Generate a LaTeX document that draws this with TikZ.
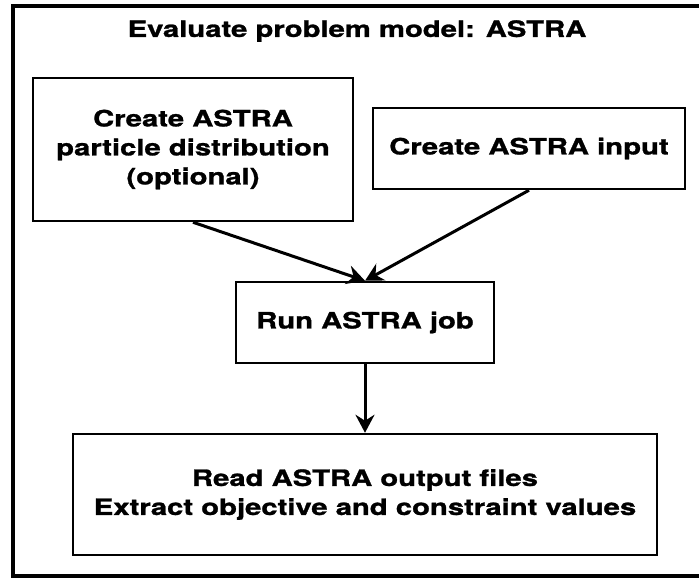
\documentclass[tikz,border=0pt]{standalone}
\usepackage{fontspec}
\setmainfont{TeX Gyre Heros}[FakeStretch=1.3,FakeBold=1.2]
\usetikzlibrary{arrows.meta}
\tikzset{
  stage/.style={draw,line width=2.5pt,align=center,inner sep=0pt},
  flow/.style={-{Stealth[length=18pt,width=19pt,inset=6pt]},line width=3pt},
}
\begin{document}
\begin{tikzpicture}[x=1pt,y=-1pt,font=\bfseries\fontsize{22.5}{29}\selectfont]
\useasboundingbox (0,0) rectangle (699,579);
\draw[line width=3.5pt] (13,6) rectangle (712,576);
\node (title) at (357,31) {Evaluate problem model: ASTRA};
\node[stage,minimum width=320pt,minimum height=143pt] (dist) at (193,149.5) {Create ASTRA\\particle distribution\\(optional)};
\node[stage,minimum width=312pt,minimum height=81pt] (input) at (529,148.5) {Create ASTRA input};
\node[stage,minimum width=258pt,minimum height=81pt] (run) at (365,322.5) {Run ASTRA job};
\node[stage,minimum width=584pt,minimum height=121pt] (read) at (365,494.5) {Read ASTRA output files\\Extract objective and constraint values};
\draw[flow] (dist.south) -- (run.north);
\draw[flow] (input.south) -- (run.north);
\draw[flow] (run.south) -- (read.north);
\end{tikzpicture}
\end{document}
